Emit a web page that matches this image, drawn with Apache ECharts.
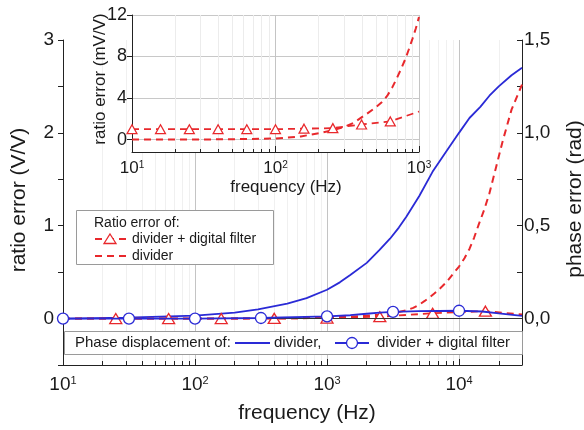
<!DOCTYPE html>
<html>
<head>
<meta charset="utf-8">
<script src="https://cdn.jsdelivr.net/npm/echarts@6/dist/echarts.min.js"></script>
<style>html,body{margin:0;padding:0;background:#fff}#c{width:584px;height:430px}</style>
</head>
<body>
<div id="c"></div>
<script>
// ---------- data ----------
// Main plot, left axis: ratio error (V/V)
const ratioFiltFreq = [10, 25.1, 63.1, 158, 398, 1000, 2512, 6310, 15849, 30000];
const ratioFiltVal  = [0, 0, 0, 0, 0.002, 0.005, 0.02, 0.057, 0.08, 0.045];
const ratioFiltMarkers = [25.1, 63.1, 158, 398, 1000, 2512, 6310, 15849];

const ratioDivFreq = [10, 100, 500, 1000, 1500, 2000, 2500, 3000, 3500, 4000, 4500, 5000, 5500, 6000, 6500, 7000, 7500, 8000, 9000, 10000, 11000, 12000, 13000, 14000, 15500, 17000, 19000, 21500, 25000, 30000];
const ratioDivVal  = [0, 0, 0.002, 0.012, 0.02, 0.03, 0.042, 0.055, 0.07, 0.09, 0.115, 0.15, 0.19, 0.23, 0.27, 0.31, 0.35, 0.39, 0.48, 0.56, 0.65, 0.75, 0.87, 1.0, 1.17, 1.35, 1.62, 1.92, 2.25, 2.52];

// Main plot, right axis: phase error (rad)
const phaseDivFreq = [10, 30, 100, 200, 300, 500, 700, 1000, 1250, 1500, 2000, 2500, 3000, 3500, 4000, 5000, 6300, 8000, 10000, 12000, 14500, 17000, 20000, 25000, 30000];
const phaseDivVal  = [0, 0.005, 0.016, 0.032, 0.05, 0.08, 0.11, 0.155, 0.195, 0.235, 0.30, 0.37, 0.43, 0.49, 0.55, 0.66, 0.79, 0.90, 1.0, 1.08, 1.14, 1.20, 1.25, 1.31, 1.35];

const phaseFiltFreq = [10, 31.6, 100, 316, 1000, 1500, 2000, 2500, 3162, 5000, 10000, 15000, 20000, 30000];
const phaseFiltVal  = [0, 0, 0, 0.003, 0.012, 0.018, 0.026, 0.032, 0.036, 0.04, 0.042, 0.038, 0.028, 0.014];
const phaseFiltMarkers = [10, 31.6, 100, 316, 1000, 3162, 10000];

// Inset: ratio error (mV/V)
const insetFiltFreq = [10, 15.8, 25.1, 39.8, 63.1, 100, 158, 251, 398, 631, 1000];
const insetFiltVal  = [1.0, 1.0, 1.0, 1.0, 1.0, 1.0, 1.05, 1.1, 1.45, 1.75, 2.7];
const insetFiltMarkers = [10, 15.8, 25.1, 39.8, 63.1, 100, 158, 251, 398, 631];

const insetDivFreq = [10, 30, 60, 100, 150, 200, 250, 300, 350, 435, 500, 550, 600, 650, 700, 750, 800, 850, 900, 950, 1000];
const insetDivVal  = [0, 0, 0.05, 0.1, 0.3, 0.6, 0.9, 1.2, 1.6, 2.5, 3.1, 3.6, 4.2, 5.0, 5.9, 6.8, 7.7, 8.7, 9.7, 10.7, 11.8];

// Tick positions / labels
const mainMajorTicks = [10, 100, 1000, 10000];
const mainMinorTicks = [20,30,40,50,60,70,80,90,200,300,400,500,600,700,800,900,2000,3000,4000,5000,6000,7000,8000,9000,20000];
const leftTicks = [-0.5, 0, 0.5, 1, 1.5, 2, 2.5, 3];
const leftLabels = [0, 1, 2, 3];
const rightTicks = [-0.25, 0, 0.25, 0.5, 0.75, 1, 1.25, 1.5];
const rightLabels = [0, 0.5, 1, 1.5];
const insetMajorTicks = [10, 100, 1000];
const insetMinorTicks = [20,30,40,50,60,70,80,90,200,300,400,500,600,700,800,900];
const insetYTicks = [0, 4, 8, 12];

// ---------- styling ----------
const RED = '#e8282c';
const BLUE = '#2a2ad6';
const FONT = 'Liberation Sans, Arial, sans-serif';
const TXT = '#1a1a1a';

function items(freq, vals, markers, sym) {
  return freq.map((f, i) => ({ value: [f, vals[i]], symbol: markers && markers.includes(f) ? sym : 'none' }));
}
function pow10Label(v) {
  const e = Math.round(Math.log10(v));
  return '10{s|' + e + '}';
}

const chart = echarts.init(document.getElementById('c'), null, { renderer: 'canvas' });

function logX(grid, min, max, ticks, major, opts) {
  return Object.assign({
    type: 'log', logBase: 10, gridIndex: grid, min: min, max: max, position: 'bottom',
    axisLine: { show: major, onZero: false, lineStyle: { color: '#222', width: 1 } },
    axisTick: { show: true, inside: true, length: major ? 6 : 4, customValues: ticks, lineStyle: { color: '#222' } },
    axisLabel: major ? {
      show: true, customValues: ticks, formatter: pow10Label, color: TXT, fontFamily: FONT, fontSize: 19, margin: 10,
      rich: { s: { fontSize: 11, fontFamily: FONT, color: TXT, verticalAlign: 'top' } }
    } : { show: false },
    splitLine: { show: true, lineStyle: { color: major ? '#c4c4c4' : '#f0f0f0', width: 1 } },
    minorTick: { show: false }
  }, opts || {});
}

const option = {
  animation: false,
  backgroundColor: '#fff',
  grid: [
    { left: 63, right: 62, top: 40, bottom: 65 },
    { left: 132, right: 165, top: 15, bottom: 278 }
  ],
  xAxis: [
    logX(0, 10, 30000, mainMinorTicks, false),
    logX(0, 10, 30000, mainMajorTicks, true),
    logX(1, 10, 1000, insetMinorTicks, false, {
      z: 3,
      axisTick: { show: true, inside: true, length: 3, customValues: insetMinorTicks, lineStyle: { color: '#222' } },
      splitLine: { show: true, lineStyle: { color: '#ececec', width: 1 } } }),
    logX(1, 10, 1000, insetMajorTicks, true, {
      z: 3,
      axisLabel: { show: true, customValues: insetMajorTicks, formatter: pow10Label, color: TXT, fontFamily: FONT, fontSize: 17, margin: 8,
        rich: { s: { fontSize: 10, fontFamily: FONT, color: TXT, verticalAlign: 'top' } } }
    })
  ],
  yAxis: [
    {
      type: 'value', gridIndex: 0, min: -0.5, max: 3, position: 'left',
      axisLine: { show: true, lineStyle: { color: '#222' } },
      axisTick: { show: true, inside: false, length: 5, customValues: leftTicks, lineStyle: { color: '#222' } },
      axisLabel: { customValues: leftLabels, color: TXT, fontFamily: FONT, fontSize: 19, margin: 9 },
      splitLine: { show: false }
    },
    {
      type: 'value', gridIndex: 0, min: -0.25, max: 1.5, position: 'right',
      axisLine: { show: true, lineStyle: { color: '#222' } },
      axisTick: { show: true, inside: true, length: 5, customValues: rightTicks, lineStyle: { color: '#222' } },
      axisLabel: { customValues: rightLabels, color: TXT, fontFamily: FONT, fontSize: 19, margin: 2,
        formatter: v => v.toFixed(1).replace('.', ',') },
      splitLine: { show: false }
    },
    {
      type: 'value', gridIndex: 1, min: -1.2, max: 12, position: 'left', z: 3,
      axisLine: { show: true, lineStyle: { color: '#222' } },
      axisTick: { show: true, inside: false, length: 5, customValues: insetYTicks, lineStyle: { color: '#222' } },
      axisLabel: { customValues: insetYTicks, color: TXT, fontFamily: FONT, fontSize: 18, margin: 5 },
      splitLine: { show: true, lineStyle: { color: '#c8c8c8' } }
    }
  ],
  series: [
    {
      name: 'zero', type: 'line', xAxisIndex: 0, yAxisIndex: 0, data: [], z: 1,
      markLine: { silent: true, symbol: 'none', label: { show: false },
        lineStyle: { color: '#333', width: 1, type: 'solid' }, data: [{ yAxis: 0 }] }
    },
    {
      name: 'ratio divider', type: 'line', xAxisIndex: 0, yAxisIndex: 0,
      data: items(ratioDivFreq, ratioDivVal, null, 'none'), showSymbol: false,
      lineStyle: { color: RED, width: 2, type: [7, 5] }, z: 3
    },
    {
      name: 'ratio filter', type: 'line', xAxisIndex: 0, yAxisIndex: 0,
      data: items(ratioFiltFreq, ratioFiltVal, ratioFiltMarkers, 'triangle'),
      showSymbol: true, showAllSymbol: true, symbolSize: [12, 10],
      lineStyle: { color: RED, width: 1.8, type: [7, 5] },
      itemStyle: { color: '#fff', borderColor: RED, borderWidth: 1.3 }, z: 4
    },
    {
      name: 'phase divider', type: 'line', xAxisIndex: 0, yAxisIndex: 1,
      data: items(phaseDivFreq, phaseDivVal, null, 'none'), showSymbol: false,
      lineStyle: { color: BLUE, width: 1.8 }, z: 3
    },
    {
      name: 'phase filter', type: 'line', xAxisIndex: 0, yAxisIndex: 1,
      data: items(phaseFiltFreq, phaseFiltVal, phaseFiltMarkers, 'circle'),
      showSymbol: true, showAllSymbol: true, symbolSize: 11,
      lineStyle: { color: BLUE, width: 1.8 },
      itemStyle: { color: '#fff', borderColor: BLUE, borderWidth: 1.3 }, z: 5
    },
    {
      name: 'inset divider', type: 'line', xAxisIndex: 2, yAxisIndex: 2,
      data: items(insetDivFreq, insetDivVal, null, 'none'), showSymbol: false,
      lineStyle: { color: RED, width: 2, type: [7, 5] }, z: 4
    },
    {
      name: 'inset filter', type: 'line', xAxisIndex: 2, yAxisIndex: 2,
      data: items(insetFiltFreq, insetFiltVal, insetFiltMarkers, 'triangle'),
      showSymbol: true, showAllSymbol: true, symbolSize: [10, 9],
      lineStyle: { color: RED, width: 1.8, type: [7, 5] },
      itemStyle: { color: '#fff', borderColor: RED, borderWidth: 1.2 }, z: 5
    }
  ],
  graphic: [
    // white backdrop of the inset plot area (hides the main grid lines there)
    { type: 'rect', z: 1, silent: true, shape: { x: 132, y: 15, width: 287, height: 137 },
      style: { fill: '#fff' } },
    // axis titles
    { type: 'text', x: 19, y: 200, rotation: Math.PI / 2, z: 50,
      style: { text: 'ratio error (V/V)', font: '21px ' + FONT, fill: TXT, align: 'center', verticalAlign: 'middle' } },
    { type: 'text', x: 575, y: 199, rotation: Math.PI / 2, z: 50,
      style: { text: 'phase error (rad)', font: '21px ' + FONT, fill: TXT, align: 'center', verticalAlign: 'middle' } },
    { type: 'text', x: 307, y: 413, z: 50,
      style: { text: 'frequency (Hz)', font: '21px ' + FONT, fill: TXT, align: 'center', verticalAlign: 'middle' } },
    { type: 'text', x: 100, y: 79, rotation: Math.PI / 2, z: 50,
      style: { text: 'ratio error (mV/V)', font: '17px ' + FONT, fill: TXT, align: 'center', verticalAlign: 'middle' } },
    { type: 'text', x: 286, y: 187, z: 50,
      style: { text: 'frequency (Hz)', font: '17px ' + FONT, fill: TXT, align: 'center', verticalAlign: 'middle' } },
    // legend 1
    { type: 'rect', z: 60, shape: { x: 76.5, y: 210.5, width: 197, height: 54 },
      style: { fill: '#fff', stroke: '#9a9a9a', lineWidth: 1 } },
    { type: 'text', z: 61, x: 94, y: 223,
      style: { text: 'Ratio error of:', font: '14px ' + FONT, fill: TXT, verticalAlign: 'middle' } },
    { type: 'line', z: 61, shape: { x1: 95, y1: 239, x2: 129, y2: 239 },
      style: { stroke: RED, lineWidth: 2, lineDash: [7, 5] } },
    { type: 'polygon', z: 62, shape: { points: [[110, 234], [116, 243.5], [104, 243.5]] },
      style: { fill: '#fff', stroke: RED, lineWidth: 1.3 } },
    { type: 'text', z: 61, x: 132, y: 239,
      style: { text: 'divider + digital filter', font: '14px ' + FONT, fill: TXT, verticalAlign: 'middle' } },
    { type: 'line', z: 61, shape: { x1: 95, y1: 256, x2: 129, y2: 256 },
      style: { stroke: RED, lineWidth: 2, lineDash: [7, 5] } },
    { type: 'text', z: 61, x: 132, y: 256,
      style: { text: 'divider', font: '14px ' + FONT, fill: TXT, verticalAlign: 'middle' } },
    // legend 2
    { type: 'rect', z: 60, shape: { x: 64.5, y: 331.5, width: 458, height: 23 },
      style: { fill: '#fff', stroke: '#9a9a9a', lineWidth: 1 } },
    { type: 'text', z: 61, x: 75, y: 343,
      style: { text: 'Phase displacement of:', font: '15px ' + FONT, fill: TXT, verticalAlign: 'middle' } },
    { type: 'line', z: 61, shape: { x1: 235, y1: 343, x2: 270, y2: 343 },
      style: { stroke: BLUE, lineWidth: 2 } },
    { type: 'text', z: 61, x: 274, y: 343,
      style: { text: 'divider,', font: '15px ' + FONT, fill: TXT, verticalAlign: 'middle' } },
    { type: 'line', z: 61, shape: { x1: 335, y1: 343, x2: 369, y2: 343 },
      style: { stroke: BLUE, lineWidth: 2 } },
    { type: 'circle', z: 62, shape: { cx: 352, cy: 343, r: 5.5 },
      style: { fill: '#fff', stroke: BLUE, lineWidth: 1.3 } },
    { type: 'text', z: 61, x: 377, y: 343,
      style: { text: 'divider + digital filter', font: '15px ' + FONT, fill: TXT, verticalAlign: 'middle' } }
  ]
};
chart.setOption(option);
</script>
</body>
</html>
